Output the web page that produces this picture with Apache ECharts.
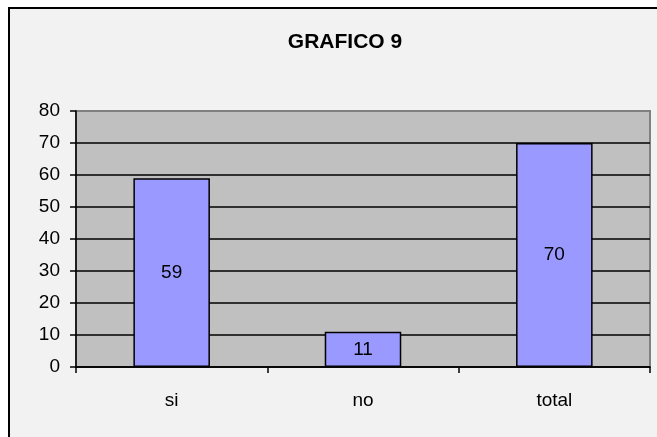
<!DOCTYPE html>
<html>
<head>
<meta charset="utf-8">
<script src="https://cdn.jsdelivr.net/npm/echarts@6/dist/echarts.min.js"></script>
<style>
  html, body { margin: 0; padding: 0; background: #fff; }
  #chart { width: 657px; height: 437px; }
</style>
</head>
<body>
<div id="chart"></div>
<script>
// datos del grafico
const categories = ["si", "no", "total"];
const values = [59, 11, 70];
const yTicks = [0, 10, 20, 30, 40, 50, 60, 70, 80];

const chart = echarts.init(document.getElementById("chart"), null, { renderer: "canvas" });

// lineas de la cuadricula: negras, la de arriba gris (borde del area)
const gridColors = yTicks.map((t, i) => (i === yTicks.length - 1 ? "#808080" : "#000"));

const option = {
  backgroundColor: "#fff",
  animation: false,
  textStyle: { fontFamily: "Liberation Sans, Arial, sans-serif" },
  graphic: [
    {
      type: "rect",
      z: -10,
      shape: { x: 9, y: 8, width: 700, height: 500 },
      style: { fill: "#f2f2f2", stroke: "#000", lineWidth: 2 },
    },
  ],
  title: {
    text: "GRAFICO 9",
    left: 340,
    top: 27,
    textAlign: "center",
    textStyle: { fontSize: 21, fontWeight: "bold", color: "#000", fontFamily: "Liberation Sans, Arial, sans-serif" },
  },
  grid: {
    left: 76,
    right: 7,
    top: 111,
    bottom: 70,
    show: true,
    backgroundColor: "#c0c0c0",
    borderColor: "#808080",
    borderWidth: 2,
  },
  xAxis: {
    type: "category",
    data: categories,
    axisLine: { lineStyle: { color: "#000", width: 1.5 } },
    axisTick: { show: true, length: 6, lineStyle: { color: "#000", width: 1.5 } },
    axisLabel: { color: "#000", fontSize: 19, margin: 24 },
  },
  yAxis: {
    type: "value",
    min: 0,
    max: 80,
    interval: 10,
    axisLine: { show: true, lineStyle: { color: "#000", width: 1.5 } },
    axisTick: { show: true, length: 6, lineStyle: { color: "#000", width: 1.5 } },
    axisLabel: { color: "#000", fontSize: 19, margin: 16 },
    splitLine: { show: true, lineStyle: { color: gridColors, width: 1.5 } },
  },
  series: [
    {
      type: "bar",
      data: values,
      barWidth: "40%",
      itemStyle: { color: "#9999ff", borderColor: "#000", borderWidth: 1.5 },
      label: {
        show: true,
        position: "inside",
        color: "#000",
        fontSize: 19,
      },
    },
  ],
};

chart.setOption(option);
</script>
</body>
</html>
